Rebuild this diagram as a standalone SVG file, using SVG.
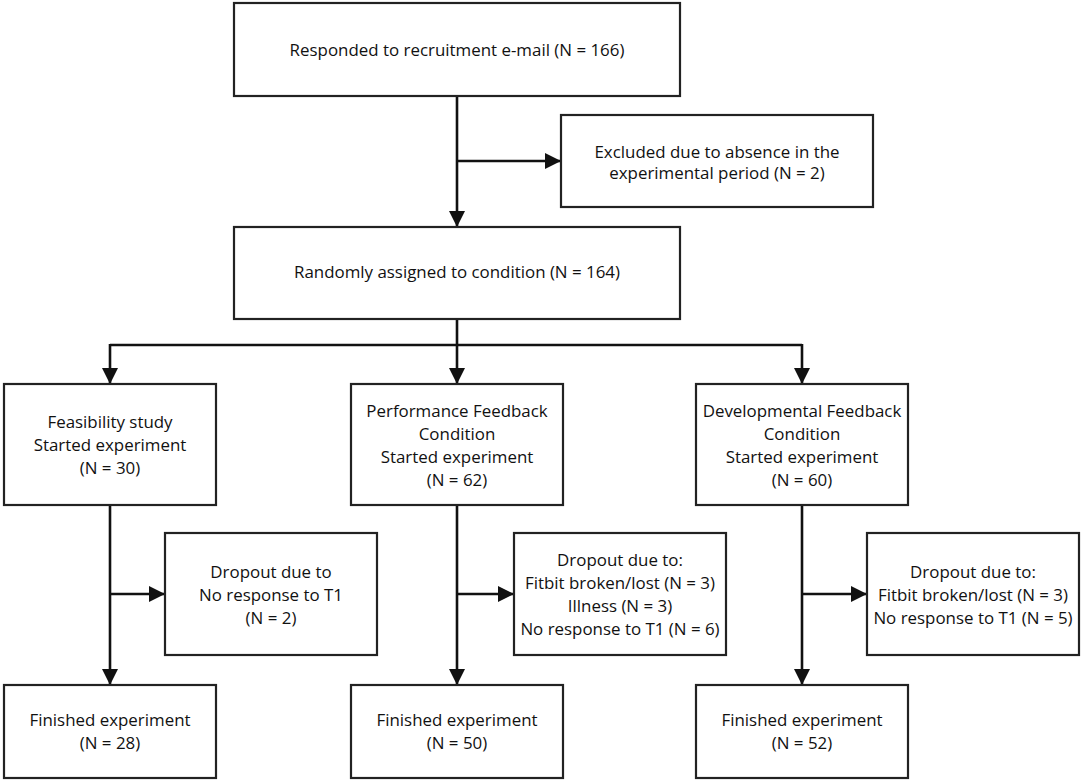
<svg xmlns="http://www.w3.org/2000/svg" width="1084" height="782" viewBox="0 0 1084 782">
<style>
.box{fill:#fff;stroke:#222;stroke-width:2.2}
.t{font-family:"Open Sans","Liberation Sans",sans-serif;font-size:16.9px;fill:#111;text-anchor:middle}
.c{fill:none;stroke:#111;stroke-width:2.6}
</style>
<defs>
<marker id="ah" markerUnits="userSpaceOnUse" markerWidth="17" markerHeight="17" refX="16" refY="8" orient="auto">
<path d="M0,0 L16,8 L0,16 z" fill="#111"/>
</marker>
</defs>
<rect width="1084" height="782" fill="#fff"/>
<g id="connectors">
<path class="c" d="M457,96 V227" marker-end="url(#ah)"/>
<path class="c" d="M457,161 H561" marker-end="url(#ah)"/>
<path class="c" d="M457,319 V345"/>
<path class="c" d="M110,345 H802"/>
<path class="c" d="M110,344 V384" marker-end="url(#ah)"/>
<path class="c" d="M457,345 V384" marker-end="url(#ah)"/>
<path class="c" d="M802,344 V384" marker-end="url(#ah)"/>
<path class="c" d="M110,505 V685" marker-end="url(#ah)"/>
<path class="c" d="M110,594 H165" marker-end="url(#ah)"/>
<path class="c" d="M457,505 V685" marker-end="url(#ah)"/>
<path class="c" d="M457,594 H514" marker-end="url(#ah)"/>
<path class="c" d="M802,505 V685" marker-end="url(#ah)"/>
<path class="c" d="M802,594 H867" marker-end="url(#ah)"/>
</g>
<g id="n-responded">
<rect class="box" x="234" y="3" width="446" height="93"/>
<text class="t" x="457" y="55.5">Responded to recruitment e-mail (N = 166)</text>
</g>
<g id="n-excluded">
<rect class="box" x="561" y="115" width="312" height="92"/>
<text class="t" x="717" y="157.5">Excluded due to absence in the</text>
<text class="t" x="717" y="179">experimental period (N = 2)</text>
</g>
<g id="n-random">
<rect class="box" x="234" y="227" width="446" height="92"/>
<text class="t" x="457" y="278">Randomly assigned to condition (N = 164)</text>
</g>
<g id="n-feas">
<rect class="box" x="4" y="384" width="212" height="121"/>
<text class="t" x="110" y="428">Feasibility study</text>
<text class="t" x="110" y="451">Started experiment</text>
<text class="t" x="110" y="474">(N = 30)</text>
</g>
<g id="n-perf">
<rect class="box" x="351" y="384" width="212" height="121"/>
<text class="t" x="457" y="416.5">Performance Feedback</text>
<text class="t" x="457" y="439.5">Condition</text>
<text class="t" x="457" y="462.5">Started experiment</text>
<text class="t" x="457" y="485.5">(N = 62)</text>
</g>
<g id="n-dev">
<rect class="box" x="696" y="384" width="212" height="121"/>
<text class="t" x="802" y="416.5">Developmental Feedback</text>
<text class="t" x="802" y="439.5">Condition</text>
<text class="t" x="802" y="462.5">Started experiment</text>
<text class="t" x="802" y="485.5">(N = 60)</text>
</g>
<g id="n-drop1">
<rect class="box" x="165" y="533" width="212" height="122"/>
<text class="t" x="271" y="577.5">Dropout due to</text>
<text class="t" x="271" y="600.5">No response to T1</text>
<text class="t" x="271" y="623.5">(N = 2)</text>
</g>
<g id="n-drop2">
<rect class="box" x="514" y="533" width="212" height="122"/>
<text class="t" x="620" y="566">Dropout due to:</text>
<text class="t" x="620" y="589">Fitbit broken/lost (N = 3)</text>
<text class="t" x="620" y="612">Illness (N = 3)</text>
<text class="t" x="620" y="635">No response to T1 (N = 6)</text>
</g>
<g id="n-drop3">
<rect class="box" x="867" y="533" width="212" height="122"/>
<text class="t" x="973" y="577.5">Dropout due to:</text>
<text class="t" x="973" y="600.5">Fitbit broken/lost (N = 3)</text>
<text class="t" x="973" y="623.5">No response to T1 (N = 5)</text>
</g>
<g id="n-fin1">
<rect class="box" x="4" y="685" width="212" height="93"/>
<text class="t" x="110" y="726">Finished experiment</text>
<text class="t" x="110" y="749">(N = 28)</text>
</g>
<g id="n-fin2">
<rect class="box" x="351" y="685" width="212" height="93"/>
<text class="t" x="457" y="726">Finished experiment</text>
<text class="t" x="457" y="749">(N = 50)</text>
</g>
<g id="n-fin3">
<rect class="box" x="696" y="685" width="212" height="93"/>
<text class="t" x="802" y="726">Finished experiment</text>
<text class="t" x="802" y="749">(N = 52)</text>
</g>
</svg>
